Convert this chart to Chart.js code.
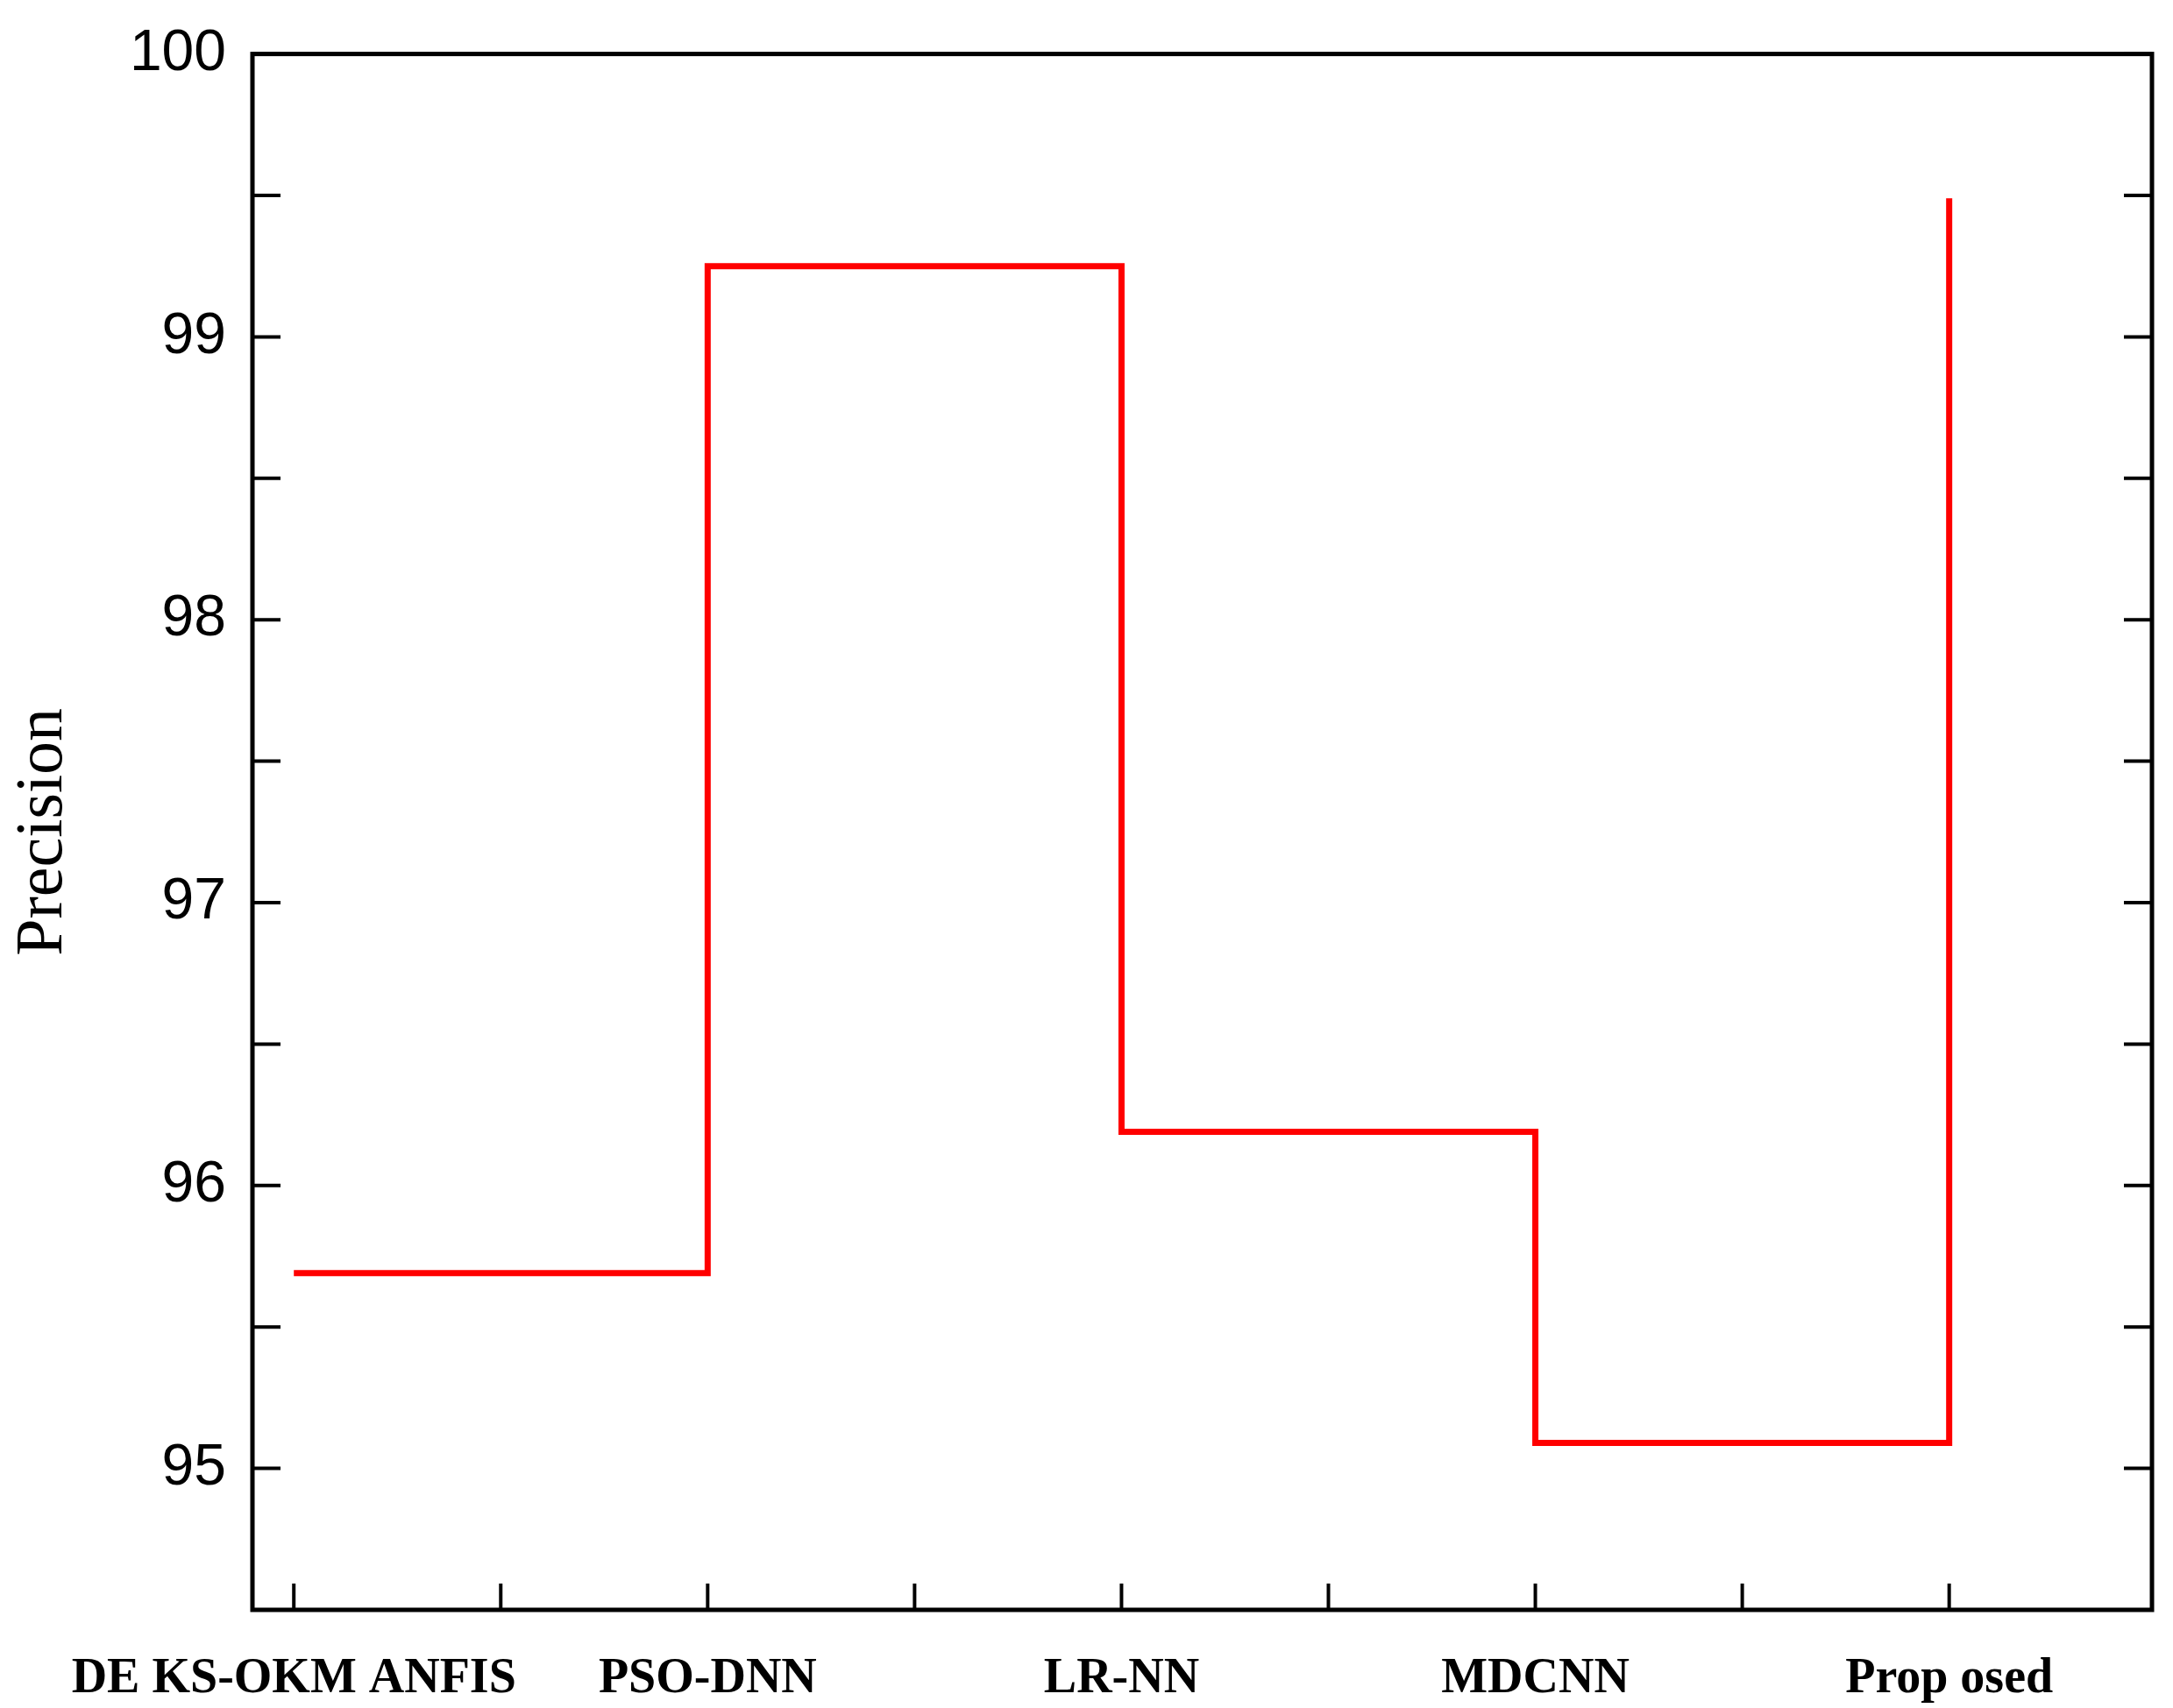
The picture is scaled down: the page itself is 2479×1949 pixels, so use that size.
<!DOCTYPE html>
<html><head><meta charset="utf-8">
<script src="https://cdn.jsdelivr.net/npm/chart.js@4"></script>
<style>html,body{margin:0;padding:0;background:#fff}#w{width:2479px;height:1949px}</style>
</head><body><div id="w"><canvas id="c"></canvas></div>
<script>
const categories = ["DE KS-OKM ANFIS","PSO-DNN","LR-NN","MDCNN","Prop osed"];
const precision = [95.69, 99.25, 96.19, 95.09, 99.49];
const yTicks = [95, 96, 97, 98, 99, 100];

const frame = {
  id:'frame',
  afterDraw(ch){
    const {ctx, chartArea:a, scales:{x,y}} = ch;
    ctx.save();
    ctx.strokeStyle='#000'; ctx.lineWidth=5;
    ctx.strokeRect(a.left,a.top,a.right-a.left,a.bottom-a.top);
    ctx.lineWidth=4;
    for(let v=95; v<=100; v+=0.5){
      const p=y.getPixelForValue(v), L=32;
      ctx.beginPath();ctx.moveTo(a.left,p);ctx.lineTo(a.left+L,p);
      ctx.moveTo(a.right,p);ctx.lineTo(a.right-L,p);ctx.stroke();
    }
    for(let v=0; v<=4; v+=0.5){
      const p=x.getPixelForValue(v);
      ctx.beginPath();ctx.moveTo(p,a.bottom);ctx.lineTo(p,a.bottom-30);ctx.stroke();
    }
    ctx.restore();
  }
};

new Chart(document.getElementById('c'), {
  type:'line',
  data:{datasets:[{
    data: precision.map((v,i)=>({x:i,y:v})),
    borderColor:'#ff0000', borderWidth:7, stepped:'before',
    pointRadius:0, fill:false
  }]},
  options:{
    responsive:true, maintainAspectRatio:false, animation:false,
    layout:{padding:{top:58,right:24,left:0,bottom:0}},
    plugins:{legend:{display:false},tooltip:{enabled:false}},
    scales:{
      x:{type:'linear', min:-0.1, max:4.49,
        afterBuildTicks(s){ s.ticks = categories.map((c,i)=>({value:i})); },
        afterFit(s){ s.height = 112; },
        grid:{display:false}, border:{display:false},
        ticks:{autoSkip:false, maxRotation:0, padding:38, color:'#000',
          font:{family:'Liberation Serif', size:56, weight:'bold'},
          callback:(v)=>categories[v]}},
      y:{min:94.5, max:100,
        afterBuildTicks(s){ s.ticks = yTicks.map(v=>({value:v})); },
        afterFit(s){ s.width = 288; },
        grid:{display:false}, border:{display:false},
        title:{display:true, text:'Precision', color:'#000', padding:{bottom:50},
          font:{family:'Liberation Serif', size:76}},
        ticks:{padding:22, color:'#000', font:{family:'Liberation Sans', size:66}}}
    }
  },
  plugins:[frame]
});
</script></body></html>
